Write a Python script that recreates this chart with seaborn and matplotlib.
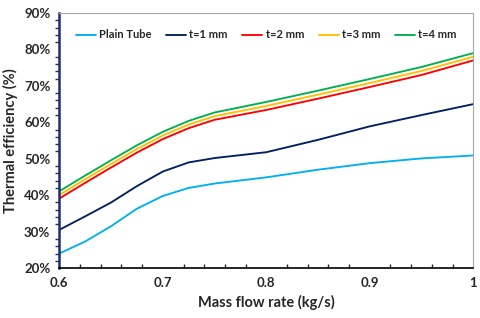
import pandas as pd
import matplotlib
matplotlib.use("Agg")
import matplotlib.pyplot as plt
from matplotlib.ticker import MultipleLocator, PercentFormatter, FuncFormatter
import seaborn as sns

# datos (eficiencia termica en %)
flujo = [0.6, 0.625, 0.65, 0.675, 0.7, 0.725, 0.75, 0.8, 0.85, 0.9, 0.95, 1.0]
plain_tube = [24.0, 27.3, 31.5, 36.3, 39.8, 42.0, 43.2, 44.9, 47.0, 48.8, 50.1, 50.9]
t1_mm = [30.5, 34.2, 38.0, 42.5, 46.5, 49.0, 50.2, 51.8, 55.2, 58.9, 62.0, 65.0]
t2_mm = [39.1, 43.4, 47.6, 51.7, 55.4, 58.4, 60.7, 63.4, 66.5, 69.7, 73.0, 77.0]
t3_mm = [40.1, 44.4, 48.6, 52.7, 56.4, 59.4, 61.7, 64.5, 67.6, 70.8, 74.1, 78.0]
t4_mm = [41.1, 45.4, 49.6, 53.7, 57.4, 60.4, 62.7, 65.6, 68.7, 71.9, 75.2, 79.0]

series = {
    "Plain Tube": plain_tube,
    "t=1 mm": t1_mm,
    "t=2 mm": t2_mm,
    "t=3 mm": t3_mm,
    "t=4 mm": t4_mm,
}
colores = {
    "Plain Tube": "#00B0F0",
    "t=1 mm": "#002060",
    "t=2 mm": "#FF0000",
    "t=3 mm": "#FFC000",
    "t=4 mm": "#00B050",
}

df = pd.concat(
    [pd.DataFrame({"flujo": flujo, "eff": v, "serie": k}) for k, v in series.items()],
    ignore_index=True,
)

sns.set_style("white")
plt.rcParams["font.family"] = ["Lato", "DejaVu Sans"]
plt.rcParams["font.weight"] = "bold"

fig = plt.figure(figsize=(4.8, 3.18), dpi=100)
ax = fig.add_axes([0.1236, 0.157, 0.8624, 0.802])

sns.lineplot(data=df, x="flujo", y="eff", hue="serie", hue_order=list(series),
             palette=colores, linewidth=1.35, ax=ax)

ax.set_xlim(0.6, 1.0)
ax.set_ylim(20, 90)
ax.xaxis.set_major_locator(MultipleLocator(0.1))
ax.xaxis.set_minor_locator(MultipleLocator(0.02))
ax.yaxis.set_major_locator(MultipleLocator(10))
ax.yaxis.set_minor_locator(MultipleLocator(2))
ax.yaxis.set_major_formatter(PercentFormatter(decimals=0))
ax.xaxis.set_major_formatter(FuncFormatter(lambda v, p: f"{v:g}"))

ax.tick_params(axis="both", which="major", direction="inout", length=7, width=1.2,
               labelsize=9.5, pad=3)
ax.tick_params(axis="y", which="major", color="#1F2F6B")
ax.tick_params(axis="y", which="minor", direction="out", length=3, width=1, color="#1F2F6B", left=True)
ax.tick_params(axis="x", which="minor", direction="in", length=3, width=1, bottom=True)

ax.spines["left"].set_color("#1F2F6B")
ax.spines["left"].set_linewidth(1.8)
ax.spines["bottom"].set_color("black")
ax.spines["bottom"].set_linewidth(1.2)
for s in ["top", "right"]:
    ax.spines[s].set_color("#A6A6A6")
    ax.spines[s].set_linewidth(0.8)

ax.set_xlabel("Mass flow rate (kg/s)", fontsize=10.5, fontweight="bold", labelpad=4)
ax.set_ylabel("Thermal efficiency (%)", fontsize=10.5, fontweight="bold", labelpad=4)

ax.legend(ncol=5, frameon=False, loc="upper center", bbox_to_anchor=(0.5, 0.975),
          handlelength=1.8, handletextpad=0.3, columnspacing=1.3,
          prop={"weight": "bold", "size": 8})

fig.savefig("out.png", dpi=100)
